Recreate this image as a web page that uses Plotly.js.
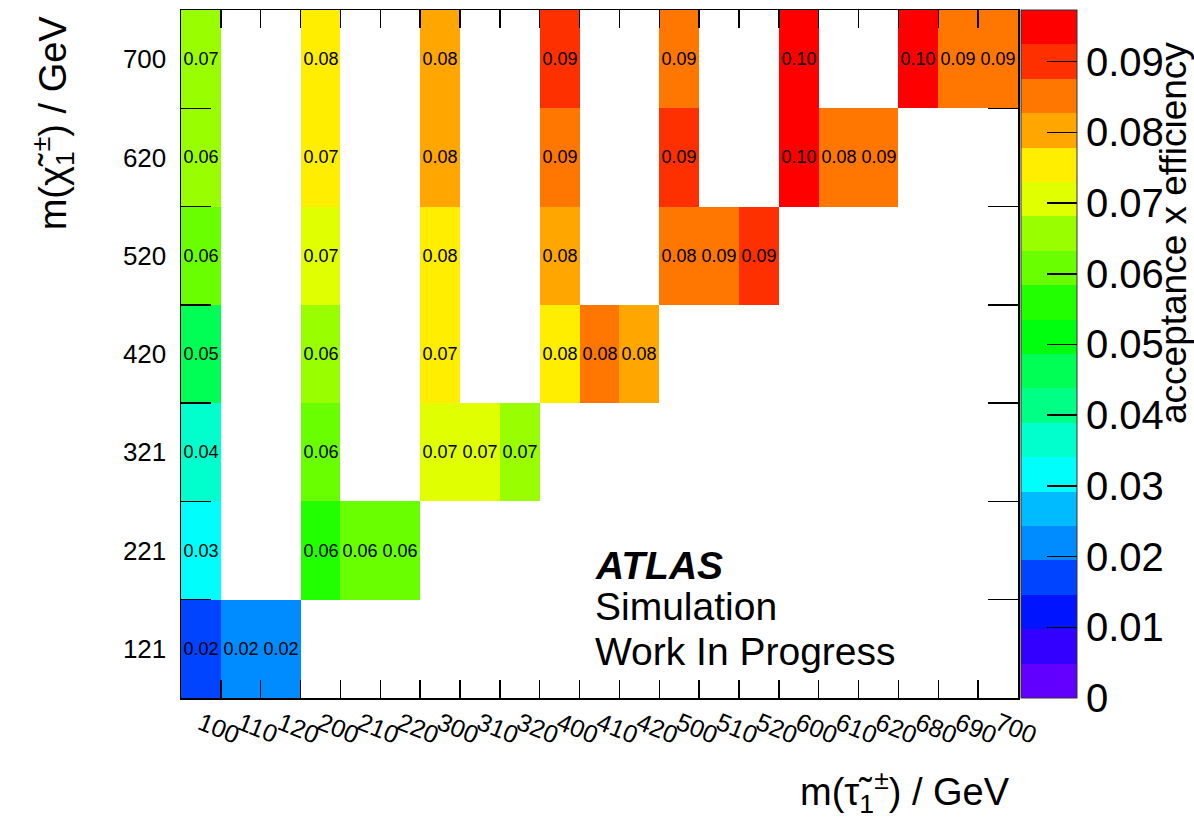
<!DOCTYPE html>
<html>
<head>
<meta charset="utf-8">
<script src="https://cdn.plot.ly/plotly-3.0.1.min.js"></script>
<style>
  html, body { margin: 0; padding: 0; background: #ffffff; }
  #chart { width: 1194px; height: 820px; }
</style>
</head>
<body>
<div id="chart"></div>
<script>
// m(stau) categories (x) and m(chargino) categories (y)
const stauMass = ['100','110','120','200','210','220','300','310','320','400','410','420','500','510','520','600','610','620','680','690','700'];
const charginoMass = ['121','221','321','420','520','620','700'];

const n = null;
// acceptance x efficiency, one array per chargino mass row
const eff121 = [0.018,0.022,0.022, n,n,n, n,n,n, n,n,n, n,n,n, n,n,n, n,n,n];
const eff221 = [0.031,n,n, 0.057,0.060,0.060, n,n,n, n,n,n, n,n,n, n,n,n, n,n,n];
const eff321 = [0.037,n,n, 0.060,n,n, 0.070,0.070,0.066, n,n,n, n,n,n, n,n,n, n,n,n];
const eff420 = [0.047,n,n, 0.064,n,n, 0.074,n,n, 0.076,0.084,0.080, n,n,n, n,n,n, n,n,n];
const eff520 = [0.060,n,n, 0.070,n,n, 0.076,n,n, 0.080,n,n, 0.084,0.086,0.090, n,n,n, n,n,n];
const eff620 = [0.064,n,n, 0.074,n,n, 0.080,n,n, 0.086,n,n, 0.090,n,n, 0.096,0.084,0.086, n,n,n];
const eff700 = [0.066,n,n, 0.076,n,n, 0.080,n,n, 0.090,n,n, 0.086,n,n, 0.0973,n,n, 0.096,0.086,0.086];

const zRows = [eff121, eff221, eff321, eff420, eff520, eff620, eff700];
const textRows = zRows.map(r => r.map(v => v === null ? '' : v.toFixed(2)));
const zMax = Math.max(...zRows.flat().filter(v => v !== null));

// ROOT "pretty" palette, 20 contour bands
const bandColors = ['#6200ff','#3300ff','#0014ff','#0044ff','#008bff','#00bbff','#00fffc','#00ffcc','#00ff85','#00ff55',
                    '#00ff0e','#22ff00','#69ff00','#99ff00','#e0ff00','#ffee00','#ffa700','#ff7700','#ff3000','#ff0000'];
const colorscale = [];
bandColors.forEach((c, k) => {
  colorscale.push([k / bandColors.length, c]);
  colorscale.push([(k + 1) / bandColors.length, c]);
});

const FONT = 'Liberation Sans, Arial, Helvetica, sans-serif';

const trace = {
  type: 'heatmap',
  x: stauMass,
  y: charginoMass,
  z: zRows,
  text: textRows,
  texttemplate: '%{text}',
  textfont: { family: FONT, size: 18, color: '#000000' },
  zmin: 0,
  zmax: zMax,
  colorscale: colorscale,
  xgap: 0, ygap: 0,
  hoverongaps: false,
  colorbar: {
    x: 1.0036, xanchor: 'left', xpad: 0,
    y: 0.5, yanchor: 'middle', ypad: 0,
    len: 1, lenmode: 'fraction',
    thickness: 56,
    outlinewidth: 1, outlinecolor: '#333333',
    ticks: 'inside', ticklen: 30, tickwidth: 1.5, tickcolor: '#000000',
    tickmode: 'linear', tick0: 0, dtick: 0.01,
    tickfont: { family: FONT, size: 40, color: '#000000' },
    title: { text: '' }
  }
};

const layout = {
  width: 1194, height: 820,
  margin: { l: 181, r: 176, t: 10, b: 122, autoexpand: false },
  paper_bgcolor: '#ffffff',
  plot_bgcolor: '#ffffff',
  font: { family: FONT, color: '#000000' },
  xaxis: {
    type: 'category',
    tickson: 'boundaries',
    ticks: 'inside', ticklen: 18, tickwidth: 1.5, tickcolor: '#000000',
    showline: true, linecolor: '#000000', linewidth: 1.5, mirror: 'ticks',
    showgrid: false, zeroline: false,
    tickangle: 22,
    tickfont: { family: FONT, size: 25, color: '#000000' },
    automargin: false
  },
  yaxis: {
    type: 'category',
    tickson: 'boundaries',
    ticks: 'inside', ticklen: 30, tickwidth: 1.5, tickcolor: '#000000',
    showline: true, linecolor: '#000000', linewidth: 1.5, mirror: 'ticks',
    showgrid: false, zeroline: false,
    tickfont: { family: FONT, size: 26, color: '#000000' },
    ticklabelstandoff: 8,
    automargin: false
  },
  annotations: [
    { xref: 'paper', yref: 'paper', x: 0.993, y: -0.137, xanchor: 'right', yanchor: 'middle',
      text: 'm(τ̃<sub>1</sub><sup>±</sup>) / GeV', showarrow: false,
      font: { family: FONT, size: 38, color: '#000000' } },
    { xref: 'paper', yref: 'paper', x: -0.1535, y: 0.836, xanchor: 'center', yanchor: 'middle',
      text: 'm(χ̃<sub>1</sub><sup>±</sup>) / GeV', textangle: -90, showarrow: false,
      font: { family: FONT, size: 38, color: '#000000' } },
    { xref: 'paper', yref: 'paper', x: 1.1865, y: 0.676, xanchor: 'center', yanchor: 'middle',
      text: 'acceptance x efficiency', textangle: -90, showarrow: false,
      font: { family: FONT, size: 37, color: '#000000' } },
    { xref: 'paper', yref: 'paper', x: 0.4922, y: 0.1933, xanchor: 'left', yanchor: 'middle',
      text: '<b><i>ATLAS</i></b>', showarrow: false,
      font: { family: FONT, size: 39, color: '#000000' } },
    { xref: 'paper', yref: 'paper', x: 0.4922, y: 0.1323, xanchor: 'left', yanchor: 'middle',
      text: 'Simulation', showarrow: false,
      font: { family: FONT, size: 39, color: '#000000' } },
    { xref: 'paper', yref: 'paper', x: 0.4922, y: 0.0680, xanchor: 'left', yanchor: 'middle',
      text: 'Work In Progress', showarrow: false,
      font: { family: FONT, size: 39, color: '#000000' } }
  ]
};

Plotly.newPlot('chart', [trace], layout, { displayModeBar: false, staticPlot: true });
</script>
</body>
</html>
